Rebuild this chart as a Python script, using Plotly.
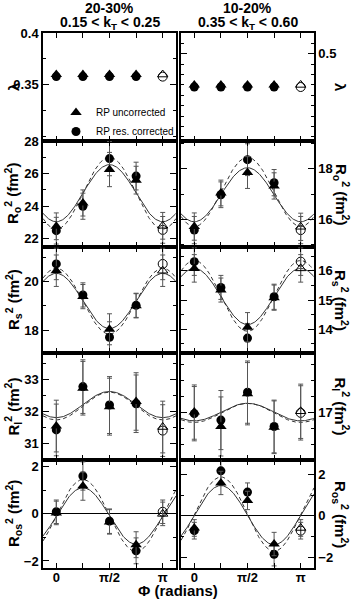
import numpy as np
import plotly.graph_objects as go

PI = np.pi
# azimuthal bins (radians) and tick labels
phi = [0, PI / 4, PI / 2, 3 * PI / 4, PI]
phi_ticktext = ["0", "", "π/2", "", "π"]

# ---- lambda ----
lam_L_circ = [0.358, 0.358, 0.358, 0.358, 0.358]
lam_L_tri = [0.360, 0.360, 0.360, 0.360, 0.360]
lam_R_circ = [0.468, 0.468, 0.468, 0.468, 0.468]
lam_R_tri = [0.470, 0.470, 0.470, 0.470, 0.470]
# ---- R_o^2 ----
ro_L_circ = [22.5, 24.0, 26.92, 25.85, 22.55]
ro_L_tri = [22.77, 24.2, 26.25, 25.6, 22.8]
ro_L_err = [0.82, 0.8, 1.05, 0.85, 0.82]
ro_R_circ = [15.57, 16.97, 18.36, 17.45, 15.57]
ro_R_tri = [15.71, 17.04, 17.85, 17.32, 15.7]
ro_R_err = [0.54, 0.51, 0.63, 0.52, 0.54]
# ---- R_s^2 ----
rs_L_circ = [20.73, 19.45, 17.7, 19.02, 20.73]
rs_L_tri = [20.45, 19.38, 18.03, 19.0, 20.45]
rs_L_err = [0.65, 0.5, 0.64, 0.5, 0.65]
rs_R_circ = [16.31, 15.43, 13.7, 15.11, 16.31]
rs_R_tri = [16.08, 15.34, 14.07, 15.08, 16.08]
rs_R_err = [0.47, 0.41, 0.5, 0.43, 0.47]
# ---- R_l^2 ----
rl_L_circ = [31.43, 32.77, 32.2, 32.24, 31.41]
rl_L_tri = [31.55, 32.72, 32.15, 32.31, 31.52]
rl_L_err = [0.8, 0.83, 0.88, 0.89, 0.8]
rl_R_circ = [16.99, 16.91, 17.26, 16.83, 17.0]
rl_R_tri = [17.01, 16.83, 17.24, 16.82, 17.02]
rl_R_err = [0.34, 0.37, 0.39, 0.33, 0.34]
# ---- R_os^2 ----
ros_L_circ = [0.09, 1.61, -0.31, -1.57, 0.09]
ros_L_tri = [0.04, 1.18, -0.34, -1.31, 0.0]
ros_L_err = [0.5, 0.6, 0.52, 0.55, 0.5]
ros_R_circ = [-0.71, 2.16, 1.14, -1.84, -0.71]
ros_R_tri = [-0.58, 1.58, 0.74, -1.35, -0.58]
ros_R_err = [0.4, 0.56, 0.44, 0.56, 0.4]

# fit parameters: (mean, amplitude) for solid (uncorrected) and dashed (corrected)
ro_L_fit = [(24.8, 1.75), (24.8, 2.2)]
ro_R_fit = [(16.97, 1.07), (17.08, 1.37)]
rs_L_fit = [(19.2, 1.14), (19.19, 1.36)]
rs_R_fit = [(15.12, 0.96), (15.14, 1.21)]
rl_L_fit = [(32.215, 0.405), (32.17, 0.43)]
rl_R_fit = [(17.01, 0.11), (17.0, 0.12)]
ros_L_fit = [(-0.09, 1.2), (-0.07, 1.53)]
ros_R_fit = [(0.035, 1.42), (0.085, 1.78)]

# axis ranges and ticks
lam_L_range, lam_R_range = [0.296, 0.4], [0.416, 0.52]
ro_L_range, ro_R_range = [21.5, 28.0], [14.9, 19.1]
rs_L_range, rs_R_range = [17.05, 21.43], [13.19, 16.81]
rl_L_range, rl_R_range = [30.5, 33.81], [16.41, 17.75]
ros_L_range, ros_R_range = [-2.3, 2.29], [-2.5, 2.68]

lam_L_ticks, lam_L_ticktext = [0.35, 0.4], ["0.35", "0.4"]
lam_R_ticks, lam_R_ticktext = [0.5], ["0.5"]
ro_L_ticks, ro_R_ticks = [22, 24, 26, 28], [16, 18]
rs_L_ticks, rs_R_ticks = [18, 20], [14, 15, 16]
rl_L_ticks, rl_R_ticks = [31, 32, 33], [17]
ros_L_ticks, ros_R_ticks = [-2, 0, 2], [-2, 0, 2]

titles = ["λ", "R<sub>o</sub><sup>2</sup> (fm<sup>2</sup>)", "R<sub>s</sub><sup>2</sup> (fm<sup>2</sup>)",
          "R<sub>l</sub><sup>2</sup> (fm<sup>2</sup>)", "R<sub>os</sub><sup>2</sup> (fm<sup>2</sup>)"]
col_titles = [["20-30%", "0.15 < k<sub>T</sub> < 0.25"], ["10-20%", "0.35 < k<sub>T</sub> < 0.60"]]

W, H = 357, 600
x_dom = [[43 / W, 176 / W], [181 / W, 314 / W]]
row_px = [33, 141, 247, 353, 460, 568]
y_dom = [[1 - row_px[i + 1] / H, 1 - row_px[i] / H] for i in range(5)]

panels = [
    # (circ, tri, err, fit, form, range, ticks, ticktext, minor)
    [(lam_L_circ, lam_L_tri, None, None, None, lam_L_range, lam_L_ticks, lam_L_ticktext, 0.025),
     (lam_R_circ, lam_R_tri, None, None, None, lam_R_range, lam_R_ticks, lam_R_ticktext, 0.01)],
    [(ro_L_circ, ro_L_tri, ro_L_err, ro_L_fit, "-cos", ro_L_range, ro_L_ticks, None, 1),
     (ro_R_circ, ro_R_tri, ro_R_err, ro_R_fit, "-cos", ro_R_range, ro_R_ticks, None, 1)],
    [(rs_L_circ, rs_L_tri, rs_L_err, rs_L_fit, "cos", rs_L_range, rs_L_ticks, None, 1),
     (rs_R_circ, rs_R_tri, rs_R_err, rs_R_fit, "cos", rs_R_range, rs_R_ticks, None, 0.5)],
    [(rl_L_circ, rl_L_tri, rl_L_err, rl_L_fit, "-cos", rl_L_range, rl_L_ticks, None, 0.5),
     (rl_R_circ, rl_R_tri, rl_R_err, rl_R_fit, "-cos", rl_R_range, rl_R_ticks, None, 0.2)],
    [(ros_L_circ, ros_L_tri, ros_L_err, ros_L_fit, "sin", ros_L_range, ros_L_ticks, None, 1),
     (ros_R_circ, ros_R_tri, ros_R_err, ros_R_fit, "sin", ros_R_range, ros_R_ticks, None, 1)],
]

FONT = "Liberation Sans, Arial, sans-serif"
xr = [-PI / 8, PI + PI / 8]
xs = np.linspace(xr[0], xr[1], 200)

fig = go.Figure()
layout = dict(width=W, height=H, margin=dict(l=0, r=0, t=0, b=0, autoexpand=False),
              paper_bgcolor="white", plot_bgcolor="white", showlegend=True,
              font=dict(family=FONT, color="black"))
annotations = []

for r in range(5):
    for c in range(2):
        k = 2 * r + c + 1
        xa, ya = f"x{k}", f"y{k}"
        circ, tri, err, fit, form, yrange, ticks, ticktext, minor = panels[r][c]
        # fit curves
        if fit is not None:
            for (m, a), dash in zip(fit, ["solid", "4px,3px"]):
                if form == "cos":
                    ys = m + a * np.cos(2 * xs)
                elif form == "-cos":
                    ys = m - a * np.cos(2 * xs)
                else:
                    ys = m + a * np.sin(2 * xs)
                fig.add_trace(go.Scatter(x=xs, y=ys, mode="lines", xaxis=xa, yaxis=ya,
                                         line=dict(color="#333", width=1, dash=dash),
                                         showlegend=False, hoverinfo="skip"))
        eb = eb_o = None
        if err is not None:
            eb = dict(type="data", array=err[:4], color="#555", thickness=1, width=2.5)
            eb_o = dict(type="data", array=err[4:], color="#555", thickness=1, width=2.5)
        # filled markers (measured)
        fig.add_trace(go.Scatter(x=phi[:4], y=circ[:4], mode="markers", xaxis=xa, yaxis=ya,
                                 marker=dict(symbol="circle", size=9, color="black"),
                                 error_y=eb, name="RP res. corrected",
                                 showlegend=(k == 1), legendrank=2))
        fig.add_trace(go.Scatter(x=phi[:4], y=tri[:4], mode="markers", xaxis=xa, yaxis=ya,
                                 marker=dict(symbol="triangle-up", size=10, color="black"),
                                 error_y=eb, name="RP uncorrected",
                                 showlegend=(k == 1), legendrank=1))
        # open markers (reflected point)
        fig.add_trace(go.Scatter(x=phi[4:], y=circ[4:], mode="markers", xaxis=xa, yaxis=ya,
                                 marker=dict(symbol="circle-open", size=9, color="black", line=dict(width=1)),
                                 error_y=eb_o, showlegend=False))
        fig.add_trace(go.Scatter(x=phi[4:], y=tri[4:], mode="markers", xaxis=xa, yaxis=ya,
                                 marker=dict(symbol="triangle-up-open", size=9, color="black", line=dict(width=1)),
                                 error_y=eb_o, showlegend=False))

        xkey = "xaxis" if k == 1 else f"xaxis{k}"
        ykey = "yaxis" if k == 1 else f"yaxis{k}"
        layout[xkey] = dict(domain=x_dom[c], anchor=ya, range=xr, tickmode="array", tickvals=phi,
                            ticktext=phi_ticktext, showticklabels=(r == 4), ticks="inside", ticklen=5,
                            tickcolor="black", showline=True, linecolor="black", linewidth=2,
                            mirror="ticks", showgrid=False, zeroline=False, automargin=False,
                            ticklabelstandoff=-4,
                            tickfont=dict(size=13, family=FONT, weight="bold"))
        ydict = dict(domain=y_dom[r], anchor=xa, range=yrange, tickmode="array", tickvals=ticks,
                     ticks="inside", ticklen=6, tickcolor="black", showline=True, linecolor="black",
                     linewidth=1.5, mirror="ticks", showgrid=False, automargin=False,
                     zeroline=(r == 4), zerolinecolor="black", zerolinewidth=1,
                     side="left" if c == 0 else "right",
                     tickfont=dict(size=13, family=FONT, weight="bold"),
                     minor=dict(tickmode="linear", tick0=0, dtick=minor, ticks="inside", ticklen=3,
                                tickcolor="black", showgrid=False))
        if ticktext is not None:
            ydict["ticktext"] = ticktext
        layout[ykey] = ydict

# axis titles
for r in range(5):
    yc = (y_dom[r][0] + y_dom[r][1]) / 2
    annotations.append(dict(text=titles[r], x=13 / W, y=yc, xref="paper", yref="paper",
                            textangle=-90, showarrow=False, xanchor="center", yanchor="middle",
                            font=dict(size=15, family=FONT, weight="bold")))
    annotations.append(dict(text=titles[r], x=341 / W, y=yc, xref="paper", yref="paper",
                            textangle=90, showarrow=False, xanchor="center", yanchor="middle",
                            font=dict(size=15, family=FONT, weight="bold")))
# column titles
for c in range(2):
    xc = (x_dom[c][0] + x_dom[c][1]) / 2
    for i, t in enumerate(col_titles[c]):
        annotations.append(dict(text=t, x=xc, y=1 - (8 + 15 * i) / H, xref="paper", yref="paper",
                                showarrow=False, xanchor="center", yanchor="middle",
                                font=dict(size=14, family=FONT, weight="bold")))
annotations.append(dict(text="<b>Φ (radians)</b>", x=178 / W, y=0, xref="paper", yref="paper",
                        showarrow=False, xanchor="center", yanchor="bottom", borderpad=0,
                        font=dict(size=15, family=FONT, weight="bold")))

layout["annotations"] = annotations
layout["legend"] = dict(x=56 / W, y=1 - 98 / H, xanchor="left", yanchor="top",
                        bgcolor="rgba(0,0,0,0)", font=dict(size=10, family=FONT),
                        tracegroupgap=0, itemwidth=30)
fig.update_layout(**layout)
fig.write_html("out.html", config={"displayModeBar": False},
               post_script="document.body.style.margin='0px';")
